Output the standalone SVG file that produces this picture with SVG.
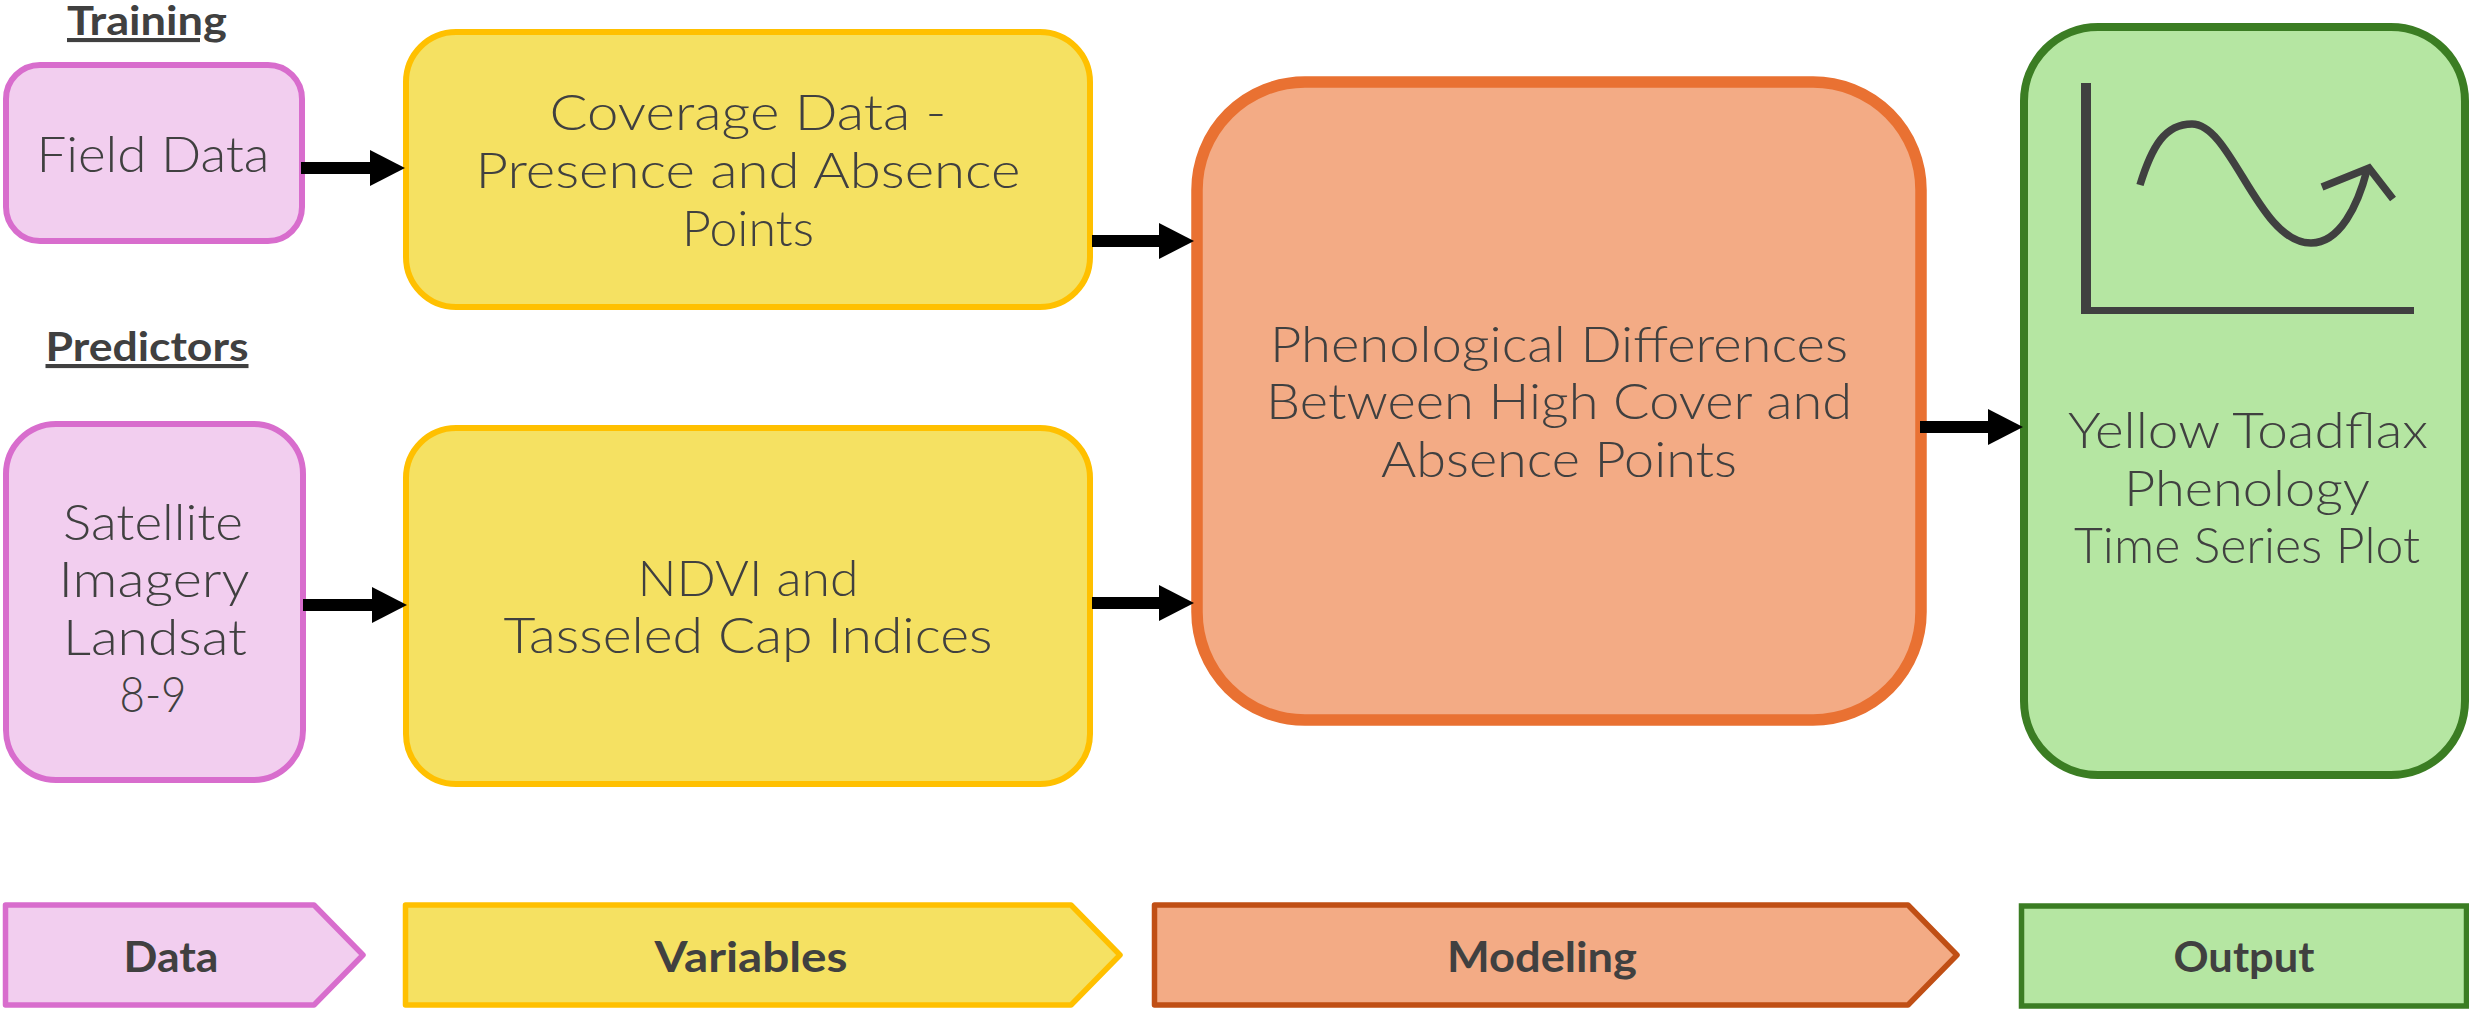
<svg xmlns="http://www.w3.org/2000/svg" width="2469" height="1009" viewBox="0 0 2469 1009">
<style>
text{font-family:"Lato","Liberation Sans",sans-serif;fill:#404040;text-anchor:middle}
.b{font-size:49px;font-weight:300}
.h{font-size:41px;font-weight:700;text-decoration:underline}
.l{font-size:42px;font-weight:700}
.pink{fill:#F2CEEF;stroke:#D86DCD}
.yel{fill:#F5E162;stroke:#FFC000}
.org{fill:#F3AB85;stroke:#E97132}
.grn{fill:#B5E6A2;stroke:#3B7D23}
.c{stroke:#000;stroke-width:12;fill:none;marker-end:url(#ah)}
</style>
<defs><marker id="ah" markerUnits="userSpaceOnUse" markerWidth="35" markerHeight="36" refX="0" refY="18" orient="auto"><path d="M0 0L35 18L0 36Z" fill="#000"/></marker></defs>
<g id="label-training"><text class="h" x="147" y="35" textLength="160" lengthAdjust="spacingAndGlyphs">Training</text></g>
<g id="label-predictors"><text class="h" x="147" y="361" textLength="203" lengthAdjust="spacingAndGlyphs">Predictors</text></g>
<g id="field-data"><rect class="pink" x="6" y="65" width="296" height="176" rx="34" stroke-width="6"/><text class="b" x="153" y="172" textLength="233" lengthAdjust="spacingAndGlyphs">Field Data</text></g>
<g id="coverage-data"><rect class="yel" x="406" y="32" width="684" height="275" rx="50" stroke-width="6"/>
<text class="b" x="748" y="130" textLength="397" lengthAdjust="spacingAndGlyphs">Coverage Data -</text><text class="b" x="748" y="188" textLength="545" lengthAdjust="spacingAndGlyphs">Presence and Absence</text><text class="b" x="748" y="246" textLength="132" lengthAdjust="spacingAndGlyphs">Points</text></g>
<g id="satellite-imagery"><rect class="pink" x="6" y="424" width="297" height="356" rx="50" stroke-width="6"/>
<text class="b" x="153" y="540" textLength="180" lengthAdjust="spacingAndGlyphs">Satellite</text><text class="b" x="154" y="597" textLength="191" lengthAdjust="spacingAndGlyphs">Imagery</text><text class="b" x="155" y="655" textLength="184" lengthAdjust="spacingAndGlyphs">Landsat</text><text class="b" x="153" y="712" textLength="67" lengthAdjust="spacingAndGlyphs">8-9</text></g>
<g id="ndvi"><rect class="yel" x="406" y="428" width="684" height="356" rx="50" stroke-width="6"/>
<text class="b" x="748" y="596" textLength="221" lengthAdjust="spacingAndGlyphs">NDVI and</text><text class="b" x="748" y="653" textLength="489" lengthAdjust="spacingAndGlyphs">Tasseled Cap Indices</text></g>
<g id="phenological"><rect class="org" x="1197" y="82" width="724" height="638" rx="108" stroke-width="11.5"/>
<text class="b" x="1559" y="362" textLength="578" lengthAdjust="spacingAndGlyphs">Phenological Differences</text><text class="b" x="1559" y="419" textLength="586" lengthAdjust="spacingAndGlyphs">Between High Cover and</text><text class="b" x="1559" y="477" textLength="356" lengthAdjust="spacingAndGlyphs">Absence Points</text></g>
<g id="output-plot"><rect class="grn" x="2024" y="27" width="441" height="748" rx="74" stroke-width="8"/>
<path d="M2081 83H2091V307H2414V314H2081Z" fill="#404040"/>
<path d="M2140 185C2152 146 2165 124 2192 124C2232 124 2258 243 2311 243C2340 243 2358 205 2367 170" fill="none" stroke="#404040" stroke-width="7.5"/>
<path d="M2322 187L2369 168L2393 199" fill="none" stroke="#404040" stroke-width="7.5"/>
<text class="b" x="2248" y="448" textLength="360" lengthAdjust="spacingAndGlyphs">Yellow Toadflax</text><text class="b" x="2247" y="506" textLength="246" lengthAdjust="spacingAndGlyphs">Phenology</text><text class="b" x="2247" y="563" textLength="346" lengthAdjust="spacingAndGlyphs">Time Series Plot</text></g>
<g id="legend-data"><path class="pink" d="M5.5 905H314L363 955L314 1005H5.5Z" stroke-width="5.5" stroke-linejoin="round"/><text class="l" x="171" y="972" textLength="95" lengthAdjust="spacingAndGlyphs">Data</text></g>
<g id="legend-variables"><path class="yel" d="M405.5 905H1071L1120 955L1071 1005H405.5Z" stroke-width="5.5" stroke-linejoin="round"/><text class="l" x="751" y="972" textLength="193" lengthAdjust="spacingAndGlyphs">Variables</text></g>
<g id="legend-modeling"><path class="org" style="stroke:#C04F15" d="M1154.5 905H1908L1957 955L1908 1005H1154.5Z" stroke-width="5.5" stroke-linejoin="round"/><text class="l" x="1542" y="972" textLength="190" lengthAdjust="spacingAndGlyphs">Modeling</text></g>
<g id="legend-output"><rect class="grn" x="2021.5" y="906" width="445" height="100" stroke-width="5.5"/><text class="l" x="2244" y="972" textLength="141" lengthAdjust="spacingAndGlyphs">Output</text></g>
<g id="connectors">
<line class="c" x1="301" y1="168" x2="370" y2="168"/>
<line class="c" x1="1092" y1="241" x2="1159" y2="241"/>
<line class="c" x1="303" y1="605" x2="372" y2="605"/>
<line class="c" x1="1092" y1="603" x2="1159" y2="603"/>
<line class="c" x1="1920" y1="427" x2="1988" y2="427"/>
</g>
</svg>
